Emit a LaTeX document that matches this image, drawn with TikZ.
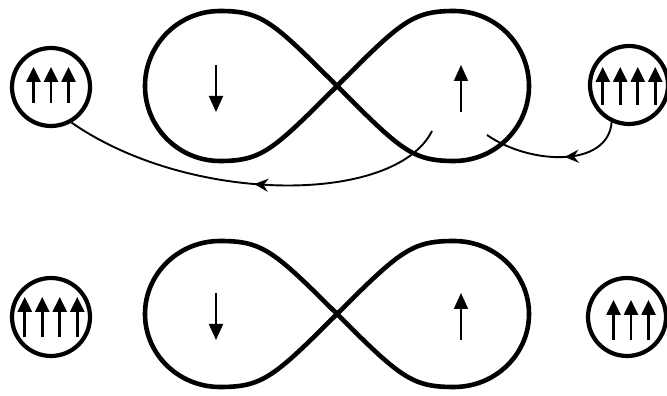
\documentclass[tikz,border=0pt]{standalone}
\usetikzlibrary{arrows.meta,calc,decorations.markings}

\begin{document}
\begin{tikzpicture}[x=1pt,y=1pt,
    lobe/.style={line width=4.6pt, line join=round},
    spinball/.style={circle, draw, line width=4.2pt, minimum size=78pt, inner sep=0pt},
    spin/.style={line width=2.6pt, -{Triangle[width=14pt,length=15pt]}},
    bigspin/.style={line width=2pt, -{Triangle[width=14pt,length=16pt]}},
    flow/.style={line width=1.9pt, postaction={decorate},
        decoration={markings, mark=at position #1 with {\arrow{Stealth[length=14pt,width=13pt]}}}}]
    \useasboundingbox (0,0) rectangle (667,396);
    % the two figure eights
    \foreach \y/\h in {310/75, 82/73} {
        \draw[lobe] (337,\y) .. controls (273,\y+64) and (262,\y+\h) .. (220,\y+\h)
            arc[start angle=90, end angle=270, x radius=75, y radius=\h]
            .. controls (262,\y-\h) and (273,\y-64) .. (337,\y)
            .. controls (401,\y+64) and (412,\y+\h) .. (454,\y+\h)
            arc[start angle=90, end angle=-90, x radius=75, y radius=\h]
            .. controls (412,\y-\h) and (401,\y-64) .. cycle;
        \draw[bigspin] (216,\y+21) -- (216,\y-26);
        \draw[bigspin] (461,\y-26) -- (461,\y+21);
    }
    \node[spinball] (tl) at (51,309) {};
    \node[spinball] (tr) at (629,311) {};
    \node[spinball] (bl) at (51,79) {};
    \node[spinball] (br) at (627,79) {};
    \foreach \dx in {-17.5,0,17.5} {\draw[spin] ($(tl)+(\dx,-16)$) -- ($(tl)+(\dx,20)$);}
    \foreach \dx in {-26.25,-8.75,8.75,26.25} {\draw[spin] ($(tr)+(\dx,-20)$) -- ($(tr)+(\dx,18)$);}
    \foreach \dx in {-26.25,-8.75,8.75,26.25} {\draw[spin] ($(bl)+(\dx,-20)$) -- ($(bl)+(\dx,20)$);}
    \foreach \dx in {-17.5,0,17.5} {\draw[spin] ($(br)+(\dx+4,-23)$) -- ($(br)+(\dx+4,17)$);}
    % transfer curves
    \coordinate (c1) at (432,265);
    \coordinate (c2) at (487,261);
    \draw[flow=0.5] (c1) .. controls (395,191) and (190,191) .. (tl.-60);
    \draw[flow=0.44] (tr.-115) .. controls (608,228) and (530,231) .. (c2);
\end{tikzpicture}
\end{document}
